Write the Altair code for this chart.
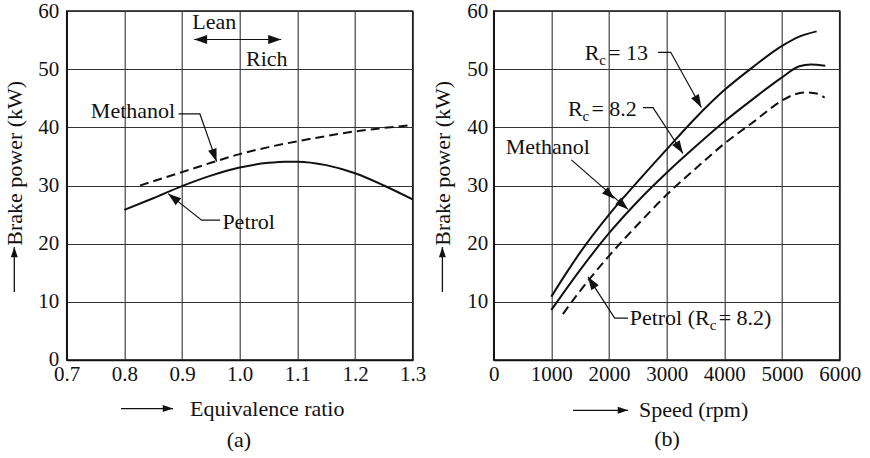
import math
import altair as alt
import pandas as pd

FONT = "Liberation Serif"
INK = "#111111"
W, H = 346, 349

# ---- (a) brake power against equivalence ratio ----
phi_petrol = [0.80, 0.85, 0.90, 0.95, 1.00, 1.05, 1.08, 1.10, 1.15, 1.20, 1.25, 1.30]
kw_petrol = [25.8, 27.8, 29.9, 31.7, 33.1, 33.9, 34.1, 34.1, 33.5, 32.1, 30.0, 27.6]
phi_methanol = [0.827, 0.90, 0.95, 1.00, 1.05, 1.10, 1.15, 1.20, 1.25, 1.30]
kw_methanol = [30.0, 32.3, 33.9, 35.4, 36.6, 37.6, 38.5, 39.3, 39.9, 40.4]
phi_ticks = [0.7, 0.8, 0.9, 1.0, 1.1, 1.2, 1.3]
kw_ticks_a = [0, 10, 20, 30, 40, 50, 60]

# ---- (b) brake power against engine speed ----
rpm_rc13 = [1000, 1250, 1500, 2000, 2500, 3000, 3500, 4000, 4500, 5000, 5300, 5600]
kw_rc13 = [10.9, 14.8, 18.5, 25.0, 30.7, 36.2, 41.6, 46.4, 50.4, 54.0, 55.6, 56.5]
rpm_rc82 = [1000, 1500, 2000, 2500, 3000, 3500, 4000, 4500, 5000, 5300, 5500, 5750]
kw_rc82 = [8.6, 15.5, 21.8, 27.3, 32.2, 36.7, 41.0, 44.9, 48.6, 50.5, 50.8, 50.6]
rpm_petrol = [1200, 1500, 2000, 2500, 3000, 3500, 4000, 4500, 5000, 5200, 5400, 5600, 5740]
kw_petrol_b = [7.9, 11.9, 17.9, 23.3, 28.4, 32.9, 37.2, 40.9, 44.6, 45.6, 46.0, 45.8, 45.1]
rpm_ticks = [0, 1000, 2000, 3000, 4000, 5000, 6000]
kw_ticks_b = [10, 20, 30, 40, 50, 60]

# arrowhead: tip at the origin, body trailing downwards (points up at angle 0)
HEAD = "M0,0L0.34,1L-0.34,1Z"


def heading(x0, y0, x1, y1, sx, sy):
    """Clockwise screen angle of the direction (x0,y0) -> (x1,y1)."""
    return math.degrees(math.atan2((x1 - x0) * sx, (y1 - y0) * sy)) % 360


def enc_xy(xscale, yscale, xaxis=None, yaxis=None):
    xk = dict(scale=xscale, title=None)
    yk = dict(scale=yscale, title=None)
    if xaxis is not None:
        xk["axis"] = xaxis
    if yaxis is not None:
        yk["axis"] = yaxis
    return dict(x=alt.X("x:Q", **xk), y=alt.Y("y:Q", **yk))


def curve(xs, ys, xscale, yscale, dash=None, axes=(None, None)):
    df = pd.DataFrame({"x": xs, "y": ys})
    kw = dict(color=INK, strokeWidth=2, interpolate="monotone")
    if dash:
        kw["strokeDash"] = dash
    return alt.Chart(df).mark_line(**kw).encode(**enc_xy(xscale, yscale, *axes))


def callouts(paths, heads, xscale, yscale, sx, sy, head_size=676):
    rows = []
    for i, pts in enumerate(paths):
        for k, (x, y) in enumerate(pts):
            rows.append({"id": i, "k": k, "x": x, "y": y})
    lines = alt.Chart(pd.DataFrame(rows)).mark_line(color=INK, strokeWidth=1.2).encode(
        detail="id:N", order="k:Q", **enc_xy(xscale, yscale)
    )
    hrows = []
    for (x0, y0, x1, y1) in heads:
        hrows.append({"x": x1, "y": y1, "a": heading(x0, y0, x1, y1, sx, sy)})
    tips = alt.Chart(pd.DataFrame(hrows)).mark_point(
        shape=HEAD, filled=True, color=INK, opacity=1, size=head_size
    ).encode(angle=alt.Angle("a:Q", scale=None), **enc_xy(xscale, yscale))
    return [lines, tips]


def label(text, x, y, xscale, yscale, align="left", size=22, dx=0, dy=0):
    return alt.Chart(pd.DataFrame({"x": [x], "y": [y]})).mark_text(
        text=text, font=FONT, fontSize=size, color=INK, align=align,
        baseline="middle", dx=dx, dy=dy
    ).encode(**enc_xy(xscale, yscale))


def sub_label(pre, post, x, y, xscale, yscale, w_pre):
    return [
        label(pre, x, y, xscale, yscale),
        label("c", x, y, xscale, yscale, size=15, dx=w_pre, dy=7),
        label(post, x, y, xscale, yscale, dx=w_pre + 9),
    ]


ONE = pd.DataFrame({"k": [0]})


def frame_text(text, px, py, align="left", angle=0):
    return alt.Chart(ONE).mark_text(
        text=text, font=FONT, fontSize=22, color=INK, align=align,
        baseline="middle", angle=angle
    ).encode(x=alt.value(px), y=alt.value(py))


def frame_arrow(x0, y0, x1, y1):
    ang = math.degrees(math.atan2(x1 - x0, -(y1 - y0))) % 360
    shaft = alt.Chart(ONE).mark_rule(color=INK, strokeWidth=1.3).encode(
        x=alt.value(x0), x2=alt.value(x1), y=alt.value(y0), y2=alt.value(y1)
    )
    tip = alt.Chart(ONE).mark_point(
        shape=HEAD, filled=True, color=INK, opacity=1, size=420, angle=ang
    ).encode(x=alt.value(x1), y=alt.value(y1))
    return [shaft, tip]


def make_axis(values, fmt, pad):
    return alt.Axis(values=values, format=fmt, ticks=False, labelFlush=False,
                    labelOverlap=False, grid=True, title=None, labelPadding=pad)


# ---------- panel (a) ----------
xa = alt.Scale(domain=[0.7, 1.3], nice=False, zero=False)
ya = alt.Scale(domain=[0, 60], nice=False)
sxa, sya = W / 0.6, H / 60.0

layers_a = [
    curve(phi_petrol, kw_petrol, xa, ya,
          axes=(make_axis(phi_ticks, ".1f", 4), make_axis(kw_ticks_a, "d", 8))),
    curve(phi_methanol, kw_methanol, xa, ya, dash=[9, 5]),
]
layers_a += callouts(
    paths=[
        [(0.894, 42.3), (0.931, 42.3), (0.960, 34.1)],
        [(0.966, 24.05), (0.934, 24.05), (0.876, 28.6)],
        [(0.921, 55.1), (1.072, 55.1)],
    ],
    heads=[
        (0.931, 42.3, 0.960, 34.1),
        (0.934, 24.05, 0.876, 28.6),
        (1.0, 55.1, 0.921, 55.1),
        (1.0, 55.1, 1.072, 55.1),
    ],
    xscale=xa, yscale=ya, sx=sxa, sy=sya,
)
layers_a += [
    label("Methanol", 0.888, 42.8, xa, ya, align="right"),
    label("Petrol", 0.970, 23.7, xa, ya),
    label("Lean", 0.956, 58.1, xa, ya, align="center"),
    label("Rich", 1.047, 51.75, xa, ya, align="center"),
    frame_text("Brake power (kW)", -51.7, 152.3, align="center", angle=270),
    frame_text("Equivalence ratio", 123.3, 398.3),
    frame_text("(a)", 172.3, 429.3, align="center"),
]
layers_a += frame_arrow(-52.4, 281, -52.4, 236)
layers_a += frame_arrow(54.3, 397.6, 106.3, 397.6)

panel_a = alt.layer(*layers_a).properties(width=W, height=H)

# ---------- panel (b) ----------
xb = alt.Scale(domain=[0, 6000], nice=False, zero=False)
yb = alt.Scale(domain=[0, 60], nice=False)
sxb, syb = W / 6000.0, H / 60.0

layers_b = [
    curve(rpm_rc13, kw_rc13, xb, yb,
          axes=(make_axis(rpm_ticks, "d", 4), make_axis(kw_ticks_b, "d", 6))),
    curve(rpm_rc82, kw_rc82, xb, yb),
    curve(rpm_petrol, kw_petrol_b, xb, yb, dash=[9, 5]),
]
layers_b += callouts(
    paths=[
        [(2850, 52.9), (3070, 52.9), (3601, 43.4)],
        [(2590, 43.4), (2763, 43.4), (3283, 35.5)],
        [(1347, 34.4), (2329, 25.9)],
        [(2329, 7.2), (2098, 7.2), (1635, 14.3)],
    ],
    heads=[
        (3070, 52.9, 3601, 43.4),
        (2763, 43.4, 3283, 35.5),
        (1347, 34.4, 2098, 27.7),
        (1347, 34.4, 2329, 25.9),
        (2098, 7.2, 1635, 14.3),
    ],
    xscale=xb, yscale=yb, sx=sxb, sy=syb,
)
layers_b += sub_label("R", "= 13", 1578, 52.8, xb, yb, 14.5)
layers_b += sub_label("R", "= 8.2", 1288, 43.2, xb, yb, 14.5)
layers_b += sub_label("Petrol (R", "= 8.2)", 2358, 7.2, xb, yb, 80)
layers_b += [
    label("Methanol", 208, 36.6, xb, yb),
    frame_text("Brake power (kW)", -50.7, 152.3, align="center", angle=270),
    frame_text("Speed (rpm)", 145.3, 399.3),
    frame_text("(b)", 173.3, 427.6, align="center"),
]
layers_b += frame_arrow(-51.3, 281, -51.3, 236)
layers_b += frame_arrow(79.3, 399.3, 134.3, 399.3)

panel_b = alt.layer(*layers_b).properties(width=W, height=H)

chart = (
    alt.hconcat(panel_a, panel_b, spacing=81, bounds="flush")
    .properties(padding={"left": 2.7, "top": -1, "right": 0, "bottom": 0},
                background="white")
    .configure_view(stroke=INK, strokeWidth=1.5)
    .configure_axis(
        labelFont=FONT, labelFontSize=21, labelColor=INK,
        domainColor=INK, domainWidth=1.5,
        gridColor="#333333", gridWidth=1.1, gridOpacity=1,
    )
)

chart.save("out.html", embed_options={"renderer": "svg", "actions": False})
